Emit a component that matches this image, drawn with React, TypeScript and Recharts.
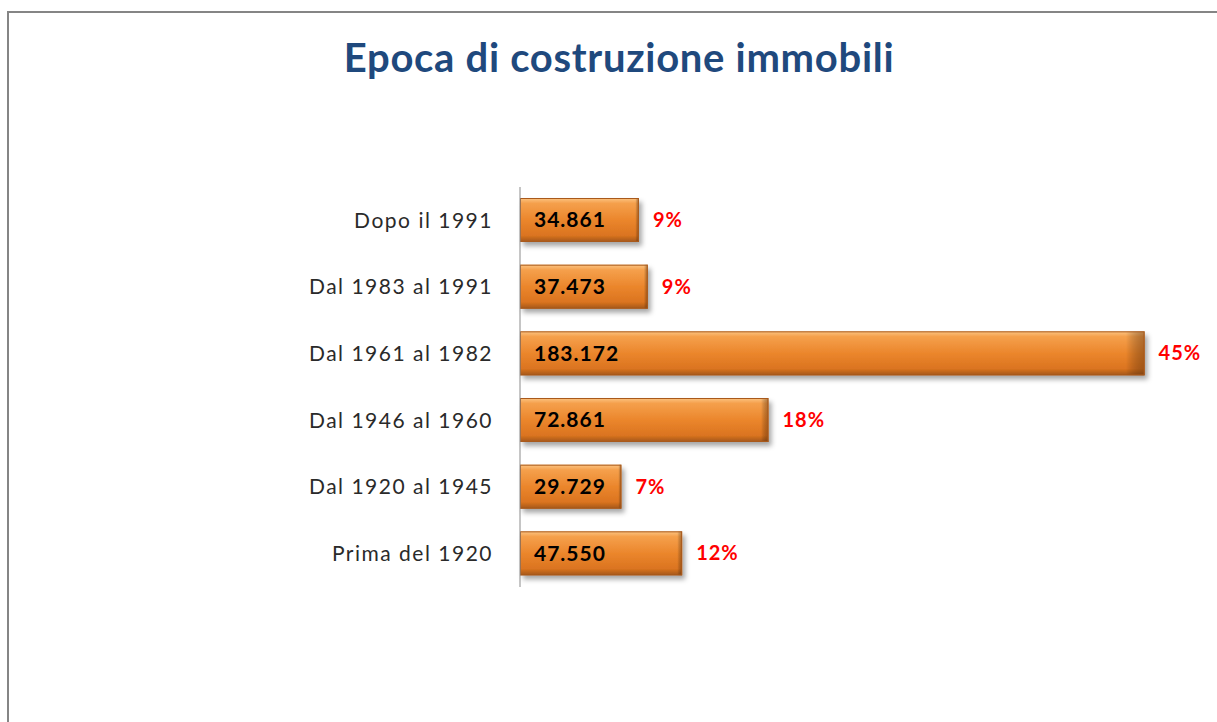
import React from 'react';
import { BarChart, Bar, XAxis, YAxis, LabelList } from 'recharts';

const categories = [
  'Dopo il 1991',
  'Dal 1983 al 1991',
  'Dal 1961 al 1982',
  'Dal 1946 al 1960',
  'Dal 1920 al 1945',
  'Prima del 1920',
];
const buildings = [34861, 37473, 183172, 72861, 29729, 47550];
const shares = [9, 9, 45, 18, 7, 12];

const data = categories.map((name, i) => ({ name, value: buildings[i], share: shares[i] }));

const FONT = 'Lato, "Open Sans", sans-serif';

const fmt = (v: number) => String(v).replace(/\B(?=(\d{3})+(?!\d))/g, '.');

const BevelBar = (props: any) => {
  const { x, y, width, height } = props;
  if (!width || width <= 0) return null;
  return (
    <g>
      <rect x={x} y={y} width={width} height={height} fill="url(#barGrad)" filter="url(#barShadow)" />
      <rect x={x} y={y} width={width} height={height} fill="url(#barEdge)" />
      <rect x={x + 0.5} y={y + 0.5} width={width - 1} height={height - 1} fill="none" stroke="#a9591b" strokeWidth={1} />
    </g>
  );
};

const ValueLabel = (props: any) => {
  const { x, y, height, value } = props;
  return (
    <text x={x + 14} y={y + height / 2 + 2} dominantBaseline="middle" fontFamily={FONT} fontSize={21} fontWeight={700} fill="#000" style={{ letterSpacing: 1 }}>
      {fmt(value)}
    </text>
  );
};

const ShareLabel = (props: any) => {
  const { x, y, width, height, value } = props;
  return (
    <text x={x + width + 14} y={y + height / 2 + 2} dominantBaseline="middle" fontFamily={FONT} fontSize={20} fontWeight={700} fill="#ff0000" style={{ letterSpacing: 1 }}>
      {value}%
    </text>
  );
};

export default function App() {
  return (
    <div style={{ position: 'absolute', left: 0, top: 0, width: 1217, height: 722, background: '#fff', overflow: 'hidden' }}>
      <div style={{ position: 'absolute', left: 7, top: 11, width: 1230, height: 740, borderLeft: '2px solid #858585', borderTop: '2px solid #858585' }} />
      <div style={{ position: 'absolute', left: 0, top: 33, width: 1238, textAlign: 'center', fontFamily: FONT, fontWeight: 700, fontSize: 40, letterSpacing: 0.7, color: '#1f497d' }}>
        Epoca di costruzione immobili
      </div>
      <BarChart
        width={1217}
        height={722}
        data={data}
        layout="vertical"
        margin={{ top: 187, right: 15, bottom: 135, left: 0 }}
        style={{ position: 'absolute', left: 0, top: 0 }}
      >
        <defs>
          <linearGradient id="barGrad" x1="0" y1="0" x2="0" y2="1">
            <stop offset="0%" stopColor="#fcc583" />
            <stop offset="12%" stopColor="#f5a04c" />
            <stop offset="50%" stopColor="#eb862c" />
            <stop offset="85%" stopColor="#db7420" />
            <stop offset="100%" stopColor="#a25618" />
          </linearGradient>
          <linearGradient id="barEdge" x1="0" y1="0" x2="1" y2="0">
            <stop offset="0%" stopColor="#000" stopOpacity={0} />
            <stop offset="97%" stopColor="#000" stopOpacity={0} />
            <stop offset="100%" stopColor="#5a2e0a" stopOpacity={0.45} />
          </linearGradient>
          <filter id="barShadow" x="-5%" y="-20%" width="115%" height="160%">
            <feDropShadow dx="3" dy="4" stdDeviation="2.5" floodColor="#000" floodOpacity={0.35} />
          </filter>
        </defs>
        <XAxis type="number" domain={[0, 200000]} hide />
        <YAxis
          type="category"
          dataKey="name"
          width={520}
          axisLine={{ stroke: '#8c8c8c', strokeWidth: 1 }}
          tickLine={false}
          tickSize={0}
          tickMargin={27}
          tick={{ fontFamily: FONT, fontSize: 21, fill: '#2a2a2a', style: { letterSpacing: 1.5 } }}
        />
        <Bar dataKey="value" barSize={44} shape={<BevelBar />} isAnimationActive={false}>
          <LabelList dataKey="value" content={<ValueLabel />} />
          <LabelList dataKey="share" content={<ShareLabel />} />
        </Bar>
      </BarChart>
    </div>
  );
}
